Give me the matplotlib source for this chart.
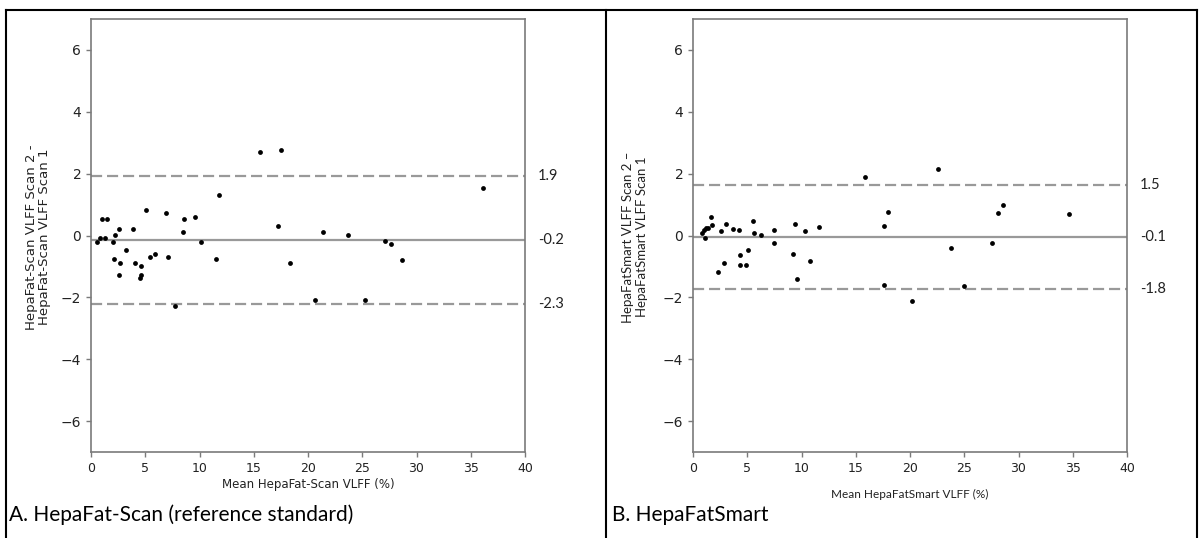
import matplotlib
matplotlib.use("Agg")
import matplotlib.pyplot as plt
from matplotlib.lines import Line2D

# ---------------- data ----------------
# Panel A: HepaFat-Scan
a_mean = [0.58, 0.86, 1.04, 1.26, 1.47, 2.0, 2.12, 2.21, 2.58, 2.64, 2.61, 3.23,
          3.9, 4.06, 4.52, 4.58, 4.64, 5.1, 5.47, 5.9, 6.94, 7.07, 7.77, 8.45,
          8.6, 9.61, 10.14, 11.49, 11.83, 15.55, 17.5, 17.26, 18.34, 21.36,
          23.72, 27.12, 27.68, 28.63, 36.13, 20.65, 25.28]
a_diff = [-0.20, -0.09, 0.52, -0.09, 0.52, -0.20, -0.77, 0.02, -1.28, -0.89, 0.21, -0.47,
          0.21, -0.89, -1.39, -1.28, -0.98, 0.81, -0.69, -0.59, 0.72, -0.69, -2.28, 0.12,
          0.52, 0.61, -0.20, -0.77, 1.31, 2.71, 2.77, 0.31, -0.88, 0.12,
          0.02, -0.19, -0.29, -0.78, 1.52, -2.08, -2.08]
a_bias = -0.16
a_upper = 1.91
a_lower = -2.23
a_labels = ["1.9", "-0.2", "-2.3"]

# Panel B: HepaFatSmart
b_mean = [0.8, 1.01, 1.08, 1.2, 1.35, 1.63, 1.78, 2.33, 2.55, 2.86, 3.07, 3.66,
          4.21, 4.36, 4.36, 4.85, 5.1, 5.56, 5.62, 6.24, 7.44, 7.5, 9.25, 9.43,
          9.55, 10.29, 10.81, 11.58, 15.85, 17.6, 17.94, 17.6, 22.55, 20.15,
          23.78, 24.95, 27.56, 28.08, 28.6, 34.68]
b_diff = [0.09, 0.19, -0.09, 0.23, 0.24, 0.59, 0.33, -1.18, 0.13, -0.88, 0.38, 0.21,
          0.17, -0.62, -0.95, -0.96, -0.48, 0.47, 0.09, 0.01, 0.18, -0.25, -0.61, 0.38,
          -1.42, 0.14, -0.81, 0.27, 1.89, 0.30, 0.76, -1.61, 2.14, -2.12,
          -0.39, -1.63, -0.25, 0.74, 1.0, 0.7]
b_bias = -0.06
b_upper = 1.62
b_lower = -1.72
b_labels = ["1.5", "-0.1", "-1.8"]

x_ticks = [0, 5, 10, 15, 20, 25, 30, 35, 40]
y_ticks = [-6, -4, -2, 0, 2, 4, 6]

W, H = 1203, 538
fig = plt.figure(figsize=(W / 100, H / 100), dpi=100)
fig.patch.set_facecolor("white")

SPINE = "#7a7a7a"
LINEC = "#999999"
CAL = ["Lato", "DejaVu Sans"]


def px_axes(l, t, r, b):
    return fig.add_axes([l / W, 1 - b / H, (r - l) / W, (b - t) / H])


def panel(ax, xs, ys, bias, up, lo, labels, xlabel, xlabel_pad):
    ax.axhline(up, color=LINEC, lw=1.6, ls="--", dashes=(5, 2.2), zorder=1)
    ax.axhline(bias, color=LINEC, lw=1.6, ls="-", zorder=1)
    ax.axhline(lo, color=LINEC, lw=1.6, ls="--", dashes=(5, 2.2), zorder=1)
    ax.scatter(xs, ys, s=12, color="black", zorder=3, linewidths=0)
    ax.set_xlim(0, 40)
    ax.set_ylim(-7, 7)
    ax.set_xticks(x_ticks)
    ax.set_yticks(y_ticks)
    ax.tick_params(axis="both", colors=SPINE, labelcolor="#222222", length=3.5,
                   width=1.0, labelsize=10)
    ax.tick_params(axis="x", labelsize=9)
    for s in ax.spines.values():
        s.set_color(SPINE)
        s.set_linewidth(1.2)
    for v, lab in zip([up, bias, lo], labels):
        ax.text(41.2, v, lab, ha="left", va="center", fontsize=10.5,
                family=CAL, color="#222222", clip_on=False)
    ax.set_xlabel(xlabel, fontsize=8.5, color="#222222", labelpad=xlabel_pad)


axA = px_axes(91, 19, 525, 452)
panel(axA, a_mean, a_diff, a_bias, a_upper, a_lower, a_labels,
      "Mean HepaFat-Scan VLFF (%)", 2)
axB = px_axes(693, 19, 1127, 452)
panel(axB, b_mean, b_diff, b_bias, b_upper, b_lower, b_labels,
      "Mean HepaFatSmart VLFF (%)", 10)
axB.xaxis.label.set_family(CAL)

fig.text(38 / W, 1 - 237 / H, "HepaFat-Scan VLFF Scan 2 -\nHepaFat-Scan VLFF Scan 1",
         rotation=90, ha="center", va="center", multialignment="center",
         fontsize=9.5, color="#222222", linespacing=1.05)
fig.text(635 / W, 1 - 237 / H, "HepaFatSmart VLFF Scan 2 \u2013\nHepaFatSmart VLFF Scan 1",
         rotation=90, ha="center", va="center", multialignment="center",
         fontsize=9.5, color="#222222", family=CAL, linespacing=1.2)

# captions
fig.text(9 / W, 1 - 515 / H, "A. HepaFat-Scan (reference standard)", ha="left",
         va="center", fontsize=15, family=CAL, color="black")
fig.text(612 / W, 1 - 515 / H, "B. HepaFatSmart", ha="left",
         va="center", fontsize=15, family=CAL, color="black")

# table borders
def fline(x0, y0, x1, y1):
    fig.add_artist(Line2D([x0 / W, x1 / W], [1 - y0 / H, 1 - y1 / H],
                          color="black", lw=1.5, transform=fig.transFigure))

fline(6, 10, 1197, 10)
fline(6, 10, 6, 538)
fline(606, 10, 606, 538)
fline(1197, 10, 1197, 538)

fig.savefig("out.png", dpi=100, facecolor="white")
